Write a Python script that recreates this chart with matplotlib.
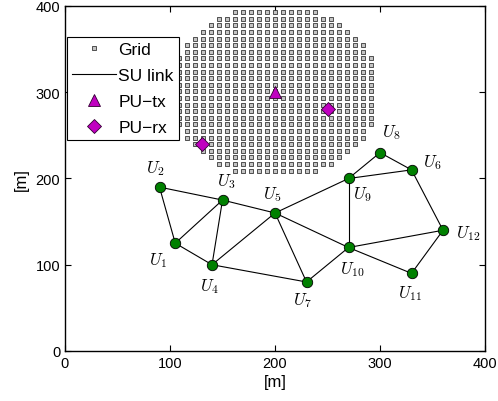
import numpy as np
import matplotlib
matplotlib.use("Agg")
import matplotlib.pyplot as plt

plt.rcParams['font.family'] = ['Liberation Sans', 'DejaVu Sans']
plt.rcParams['mathtext.fontset'] = 'cm'

# grid of candidate PU-tx points (disc around the PU-tx)
grid_center = (200, 301)
grid_step = 7.65
grid_half = 12          # grid index runs -12..12 in both directions
grid_r2 = 172           # keep points with j^2 + k^2 <= this

pu_tx_x = [200]
pu_tx_y = [300]
pu_rx_x = [130, 250]
pu_rx_y = [240, 280]

su_x = [105, 90, 150, 140, 200, 330, 230, 300, 270, 270, 330, 360]
su_y = [125, 190, 175, 100, 160, 210, 80, 230, 200, 120, 90, 140]
su_names = [r'$U_{%d}$' % (i + 1) for i in range(12)]

links = [(2, 1), (2, 3), (1, 3), (1, 4), (3, 4), (3, 5), (4, 5), (4, 7),
         (5, 7), (5, 10), (5, 9), (7, 10), (9, 10), (9, 8), (9, 6), (8, 6),
         (6, 12), (10, 12), (10, 11), (11, 12)]

# build grid points
k = np.arange(-grid_half, grid_half + 1)
J, K = np.meshgrid(k, k)
keep = (J**2 + K**2) <= grid_r2
gx = grid_center[0] + J[keep] * grid_step
gy = grid_center[1] + K[keep] * grid_step

fig = plt.figure(figsize=(4.98, 4.02), dpi=100)
ax = fig.add_axes([0.1305, 0.1244, 0.8435, 0.8582])

ax.plot(gx, gy, 's', ms=3.5, mfc='#c4c4c4', mec='#282828', mew=0.55,
        ls='none', label='Grid', zorder=2)

for a, b in links:
    ax.plot([su_x[a - 1], su_x[b - 1]], [su_y[a - 1], su_y[b - 1]],
            'k-', lw=0.8, zorder=3)
ax.plot([], [], 'k-', lw=0.8, label='SU link')

ax.plot(pu_tx_x, pu_tx_y, '^', ms=8, mfc='#c000c0', mec='#300030', mew=0.6,
        ls='none', label='PU\u2212tx', zorder=4)
ax.plot(pu_rx_x, pu_rx_y, 'D', ms=7, mfc='#c000c0', mec='#300030', mew=0.6,
        ls='none', label='PU\u2212rx', zorder=4)

ax.plot(su_x, su_y, 'o', ms=7.5, mfc='#008000', mec='k', mew=0.6,
        ls='none', zorder=5)

offsets = {1: (-12, -12), 2: (-3, 14), 3: (3, 14), 4: (-2, -15),
           5: (-2, 14), 6: (15, 6), 7: (-3, -13), 8: (8, 15),
           9: (10, -11), 10: (3, -15), 11: (-1, -14), 12: (18, -2)}
for i, name in enumerate(su_names):
    ax.annotate(name, (su_x[i], su_y[i]), xytext=offsets[i + 1],
                textcoords='offset points', ha='center', va='center',
                fontsize=12, zorder=6)

ax.set_xlim(0, 400)
ax.set_ylim(0, 400)
ax.set_xticks([0, 100, 200, 300, 400])
ax.set_yticks([0, 100, 200, 300, 400])
ax.tick_params(direction='in', top=True, right=True, length=4, labelsize=10.5)
ax.set_xlabel('[m]', fontsize=12, labelpad=3)
ax.set_ylabel('[m]', fontsize=12, labelpad=5)
for s in ax.spines.values():
    s.set_linewidth(1.0)

leg = ax.legend(loc='upper left', bbox_to_anchor=(0.005, 0.91), fontsize=12.5,
                fancybox=False, edgecolor='k', framealpha=1,
                borderpad=0.3, labelspacing=0.62, handlelength=2.5,
                handletextpad=0.15, borderaxespad=0.0)
leg.get_frame().set_linewidth(0.8)
leg.set_zorder(10)

fig.savefig('out.png', dpi=100)
